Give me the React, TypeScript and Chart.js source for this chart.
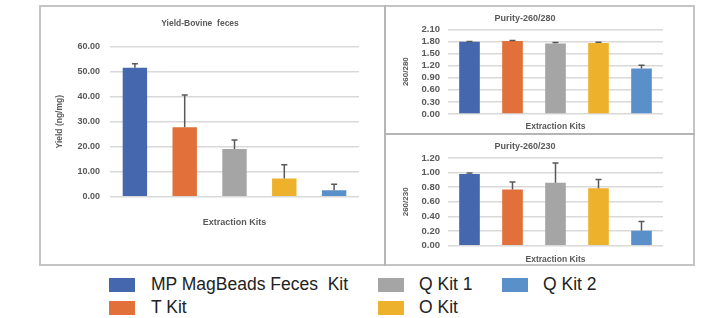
import React, { useEffect, useRef } from "react";
import { Chart, registerables } from "chart.js";

Chart.register(...registerables);

const kits = ["MP MagBeads Feces  Kit", "T Kit", "Q Kit 1", "O Kit", "Q Kit 2"];
const kitColors = ["#4467AD", "#E1703A", "#A5A5A5", "#EDB12B", "#5A90C9"];

const yieldValues = [51.6, 27.8, 19.1, 7.3, 2.55];
const yieldErrors = [1.6, 12.9, 3.6, 5.5, 2.4];
const yieldTicks = [0, 10, 20, 30, 40, 50, 60];

const ratio280Values = [1.79, 1.81, 1.75, 1.76, 1.13];
const ratio280Errors = [0.01, 0.01, 0.02, 0.02, 0.08];
const ratio280Ticks = [0, 0.3, 0.6, 0.9, 1.2, 1.5, 1.8, 2.1];

const ratio230Values = [0.98, 0.77, 0.86, 0.785, 0.205];
const ratio230Errors = [0.015, 0.1, 0.27, 0.12, 0.125];
const ratio230Ticks = [0, 0.2, 0.4, 0.6, 0.8, 1.0, 1.2];

const legendRows = [
  { label: kits[0], color: kitColors[0], x: 109, y: 277.5, tx: 151 },
  { label: kits[1], color: kitColors[1], x: 109, y: 300.5, tx: 151 },
  { label: kits[2], color: kitColors[2], x: 378, y: 277.5, tx: 419 },
  { label: kits[3], color: kitColors[3], x: 378, y: 300.5, tx: 419 },
  { label: kits[4], color: kitColors[4], x: 502, y: 277.5, tx: 543 },
];

const FONT = "'Liberation Sans', Arial, sans-serif";
const GREY_TEXT = "#595959";

Chart.defaults.font.family = FONT;

const errorBarPlugin = {
  id: "errorBars",
  afterDatasetsDraw(chart: any) {
    const ds = chart.data.datasets[0];
    const errs: number[] = ds.errors;
    if (!errs) return;
    const meta = chart.getDatasetMeta(0);
    const y = chart.scales.y;
    const ctx = chart.ctx;
    ctx.save();
    ctx.strokeStyle = "#595959";
    ctx.lineWidth = 1.5;
    meta.data.forEach((bar: any, i: number) => {
      const v = ds.data[i];
      const base = y.getPixelForValue(v);
      const top = y.getPixelForValue(v + errs[i]);
      ctx.beginPath();
      ctx.moveTo(bar.x, base);
      ctx.lineTo(bar.x, top);
      ctx.moveTo(bar.x - 3, top);
      ctx.lineTo(bar.x + 3, top);
      ctx.stroke();
    });
    ctx.restore();
  },
};

type Spec = {
  left: number;
  top: number;
  width: number;
  height: number;
  title: string;
  titleSize: number;
  titlePad: { top: number; bottom: number };
  yTitle: string;
  yTitleSize: number;
  yTitlePad: number;
  yWidth: number;
  yTickPad: number;
  tickSize: number;
  xTitleSize: number;
  xTitlePad: number;
  xHeight: number;
  rightPad: number;
  barPct: number;
  values: number[];
  errors: number[];
  ticks: number[];
};

function BarPanel({ spec }: { spec: Spec }) {
  const ref = useRef<HTMLCanvasElement>(null);
  useEffect(() => {
    const s = spec;
    const ds: any = {
      data: s.values,
      errors: s.errors,
      backgroundColor: kitColors,
      borderWidth: 0,
      barPercentage: s.barPct,
      categoryPercentage: 1,
    };
    const chart = new Chart(ref.current!, {
      type: "bar",
      data: { labels: kits, datasets: [ds] },
      plugins: [errorBarPlugin],
      options: {
        animation: false,
        responsive: false,
        layout: { padding: { left: 0, right: s.rightPad, top: 0, bottom: 0 } },
        plugins: {
          legend: { display: false },
          tooltip: { enabled: false },
          title: {
            display: true,
            text: s.title,
            color: GREY_TEXT,
            font: { size: s.titleSize, weight: "bold", family: FONT, lineHeight: 1.2 },
            padding: s.titlePad,
          },
        },
        scales: {
          x: {
            grid: { display: false },
            border: { display: false },
            ticks: { display: false },
            title: {
              display: true,
              text: "Extraction Kits",
              color: GREY_TEXT,
              font: { size: s.xTitleSize, weight: "bold", family: FONT, lineHeight: 1.2 },
              padding: { top: 0, bottom: s.xTitlePad },
            },
            afterFit: (scale: any) => {
              scale.height = s.xHeight;
            },
          },
          y: {
            min: s.ticks[0],
            max: s.ticks[s.ticks.length - 1],
            grid: { color: "#d9d9d9", lineWidth: 1.5, drawTicks: false },
            border: { display: false },
            ticks: {
              color: GREY_TEXT,
              padding: s.yTickPad,
              autoSkip: false,
              font: { size: s.tickSize, weight: "bold", family: FONT },
              callback: (v: any) => Number(v).toFixed(2),
            },
            afterBuildTicks: (scale: any) => {
              scale.ticks = s.ticks.map((v) => ({ value: v }));
            },
            title: {
              display: true,
              text: s.yTitle,
              color: GREY_TEXT,
              font: { size: s.yTitleSize, weight: "bold", family: FONT, lineHeight: 1.2 },
              padding: { top: s.yTitlePad, bottom: 0 },
            },
            afterFit: (scale: any) => {
              scale.width = s.yWidth;
            },
          },
        },
      } as any,
    });
    return () => chart.destroy();
  }, []);
  return (
    <canvas
      ref={ref}
      width={spec.width}
      height={spec.height}
      style={{ position: "absolute", left: spec.left, top: spec.top, width: spec.width, height: spec.height }}
    />
  );
}

const yieldSpec: Spec = {
  left: 41, top: 7, width: 341, height: 258,
  title: "Yield-Bovine  feces", titleSize: 8.5, titlePad: { top: 11.9, bottom: 17.6 },
  yTitle: "Yield (ng/mg)", yTitleSize: 8.5, yTitlePad: 13.9, yWidth: 69, yTickPad: 10,
  tickSize: 9, xTitleSize: 9, xTitlePad: 36.6, xHeight: 68.3, rightPad: 23, barPct: 0.49,
  values: yieldValues, errors: yieldErrors, ticks: yieldTicks,
};

const r280Spec: Spec = {
  left: 387, top: 7, width: 307, height: 126,
  title: "Purity-260/280", titleSize: 9, titlePad: { top: 6.6, bottom: 4.9 },
  yTitle: "260/280", yTitleSize: 8, yTitlePad: 14.2, yWidth: 61, yTickPad: 8,
  tickSize: 9.5, xTitleSize: 8.5, xTitlePad: 0.9, xHeight: 19, rightPad: 31, barPct: 0.48,
  values: ratio280Values, errors: ratio280Errors, ticks: ratio280Ticks,
};

const r230Spec: Spec = {
  left: 387, top: 136, width: 307, height: 129,
  title: "Purity-260/230", titleSize: 9, titlePad: { top: 5.3, bottom: 5.9 },
  yTitle: "260/230", yTitleSize: 8, yTitlePad: 14.2, yWidth: 61, yTickPad: 8,
  tickSize: 9.5, xTitleSize: 8.5, xTitlePad: 0, xHeight: 19.3, rightPad: 31, barPct: 0.48,
  values: ratio230Values, errors: ratio230Errors, ticks: ratio230Ticks,
};

export default function App() {
  const frame = "#c4c4c4";
  return (
    <div
      style={{
        position: "fixed",
        left: 0,
        top: 0,
        width: 712,
        height: 318,
        background: "#ffffff",
        overflow: "hidden",
        fontFamily: FONT,
      }}
    >
      <div
        style={{
          position: "absolute",
          left: 39,
          top: 5,
          width: 656,
          height: 261,
          border: `2px solid ${frame}`,
          boxSizing: "border-box",
        }}
      />
      <div style={{ position: "absolute", left: 384, top: 5, width: 2, height: 261, background: "#b5b5b5" }} />
      <div style={{ position: "absolute", left: 385, top: 133, width: 310, height: 2, background: "#b5b5b5" }} />
      <BarPanel spec={yieldSpec} />
      <BarPanel spec={r280Spec} />
      <BarPanel spec={r230Spec} />
      {legendRows.map((r, i) => (
        <React.Fragment key={i}>
          <div
            style={{ position: "absolute", left: r.x, top: r.y, width: 26, height: 14, background: r.color }}
          />
          <div
            style={{
              position: "absolute",
              left: r.tx,
              top: r.y - 1.6,
              fontSize: 17.5,
              lineHeight: "17.5px",
              color: "#222222",
              whiteSpace: "pre",
            }}
          >
            {r.label}
          </div>
        </React.Fragment>
      ))}
    </div>
  );
}
